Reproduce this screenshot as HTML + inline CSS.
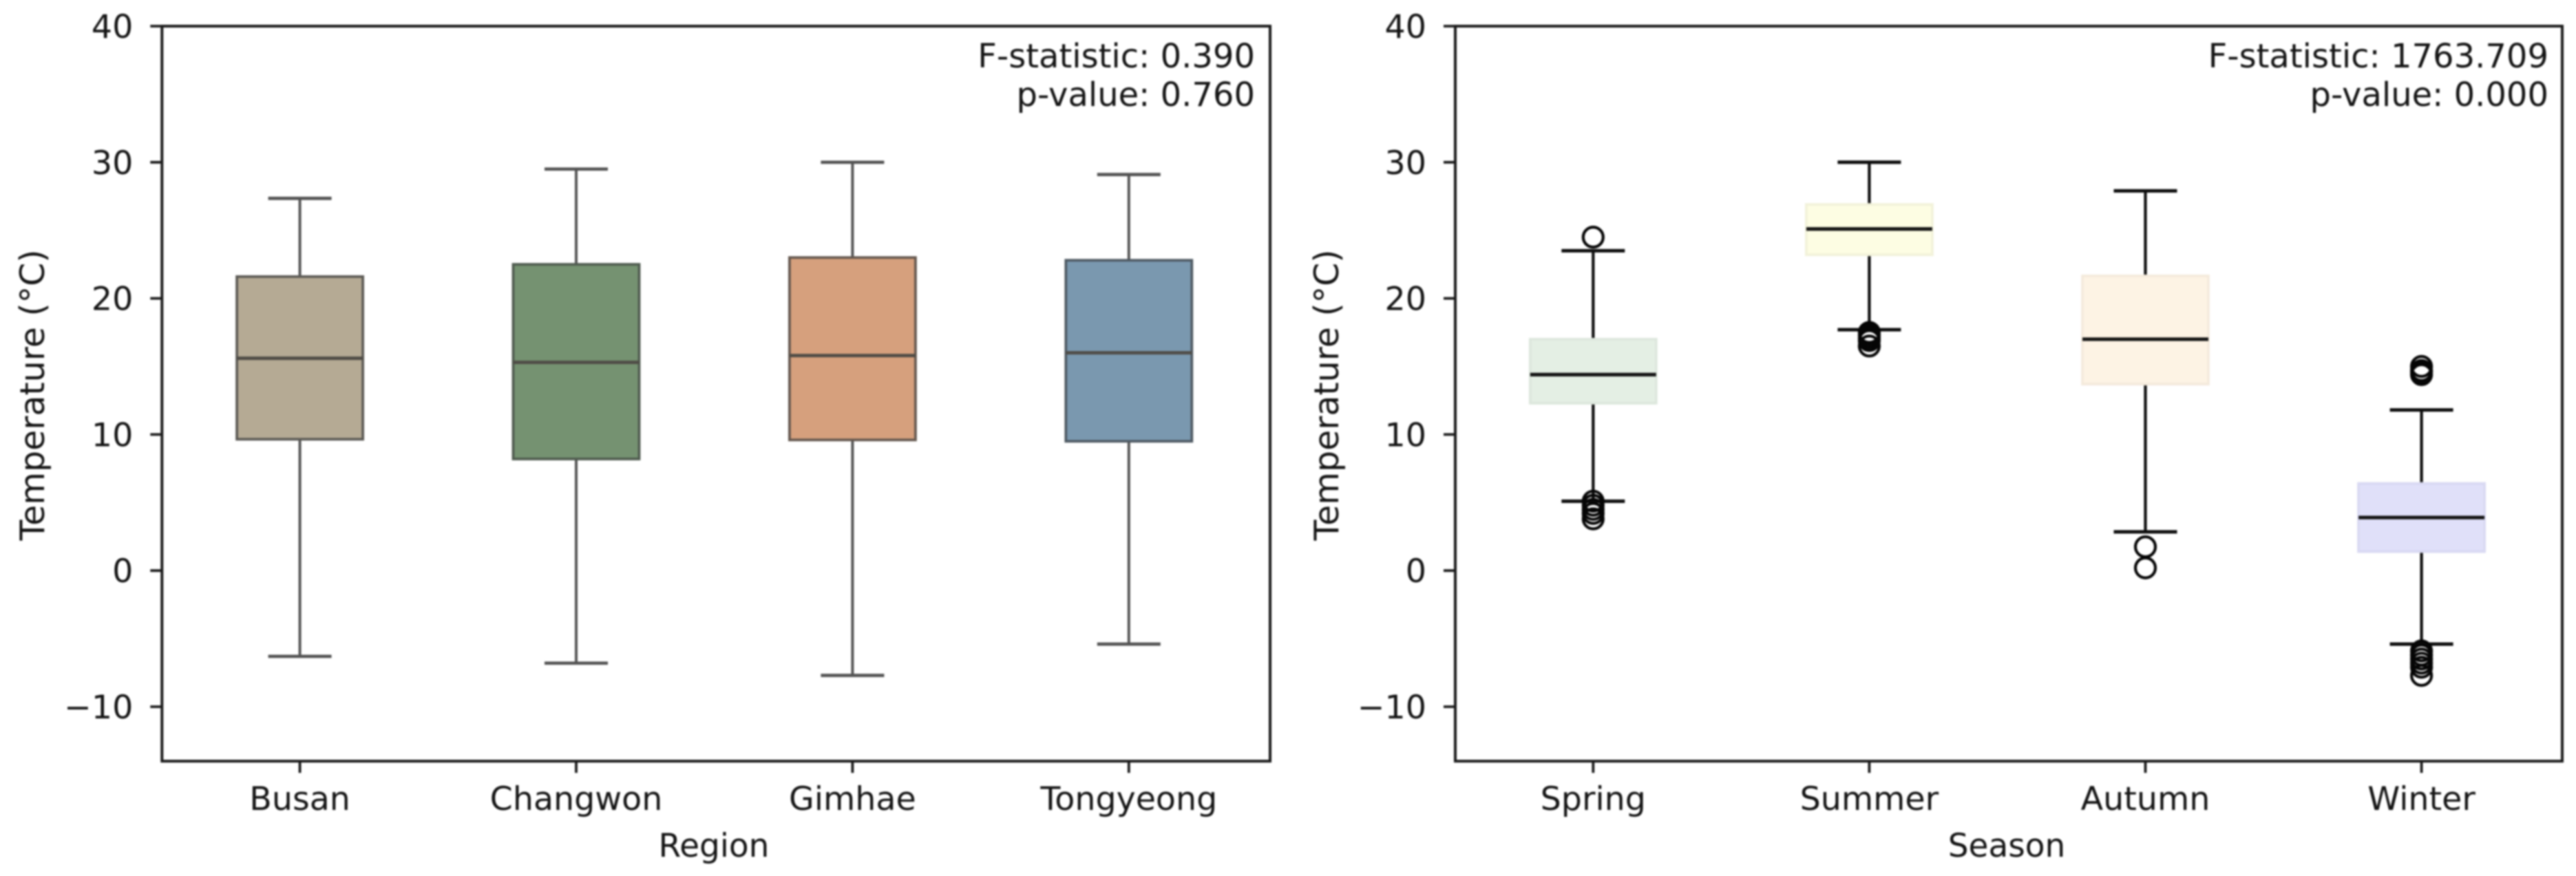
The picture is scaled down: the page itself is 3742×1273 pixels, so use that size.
<!DOCTYPE html>
<html lang="en">
<head>
<meta charset="utf-8">
<title>Temperature by Region and Season</title>
<style>
html,body{margin:0;padding:0;background:#fff;}
body{width:3742px;height:1273px;overflow:hidden;}
svg{display:block;filter:blur(1.2px);}
text{font-family:"DejaVu Sans","Liberation Sans",sans-serif;font-size:47.5px;fill:#141414;}
.ylab{font-size:49px;}
.xlab{font-size:47px;}
.stat{font-size:48px;}
</style>
</head>
<body>
<svg id="figure" xmlns="http://www.w3.org/2000/svg" width="3742" height="1273" viewBox="0 0 3742 1273">
  <rect x="0" y="0" width="3742" height="1273" fill="#ffffff"/>
  <g id="region-panel">
    <text class="ylab" text-anchor="middle" transform="translate(64 574) rotate(-90)">Temperature (°C)</text>
    <text class="xlab" text-anchor="middle" x="1037" y="1245">Region</text>
    <text class="stat" text-anchor="end" x="1823" y="98">F-statistic: 0.390</text>
    <text class="stat" text-anchor="end" x="1823" y="154">p-value: 0.760</text>
  </g>
  <g id="season-panel">
    <text class="ylab" text-anchor="middle" transform="translate(1944 574) rotate(-90)">Temperature (°C)</text>
    <text class="xlab" text-anchor="middle" x="2915" y="1245">Season</text>
    <text class="stat" text-anchor="end" x="3702" y="98">F-statistic: 1763.709</text>
    <text class="stat" text-anchor="end" x="3702" y="154">p-value: 0.000</text>
  </g>
</svg>
<script>
// Shared value axis
var yTickValues = [-10, 0, 10, 20, 30, 40];
var yTickLabels = ['\u221210', '0', '10', '20', '30', '40'];

// Left chart: temperature by region
var regionCategories = ['Busan', 'Changwon', 'Gimhae', 'Tongyeong'];
var regionLow = [-6.3, -6.8, -7.7, -5.4];
var regionQ1 = [9.65, 8.2, 9.6, 9.5];
var regionMedian = [15.6, 15.3, 15.8, 16.0];
var regionQ3 = [21.6, 22.5, 23.0, 22.8];
var regionHigh = [27.35, 29.5, 30.0, 29.1];
var regionOutliers = [[], [], [], []];

// Right chart: temperature by season
var seasonCategories = ['Spring', 'Summer', 'Autumn', 'Winter'];
var seasonLow = [5.1, 17.7, 2.85, -5.4];
var seasonQ1 = [12.3, 23.2, 13.7, 1.4];
var seasonMedian = [14.4, 25.1, 17.0, 3.9];
var seasonQ3 = [17.0, 26.9, 21.65, 6.4];
var seasonHigh = [23.5, 30.0, 27.9, 11.8];
var seasonOutliers = [
  [24.5, 5.1, 4.8, 4.5, 4.2, 3.8],
  [17.5, 17.3, 17.1, 16.9, 16.5],
  [1.75, 0.2],
  [15.0, 14.7, 14.6, 14.4, -5.9, -6.2, -6.5, -6.8, -7.1, -7.7]
];

// Styling, kept apart from the data
var regionFills = ['#b5aa94', '#759271', '#d6a07d', '#7a98af'];
var seasonFills = ['#e4efe4', '#fdfde3', '#fdf3e4', '#e0e0f9'];
var seasonEdges = ['#dde7dd', '#f2f2da', '#f4eadc', '#d9d9f2'];

var NS = 'http://www.w3.org/2000/svg';

// Value axis shared by both panels
function yScale(v) {
  return 829.2 - 19.78 * v;
}
function regionX(i) {
  return 435.6 + 401.4 * i;
}
function seasonX(i) {
  return 2314.3 + 401.1 * i;
}

function make(parent, tag, attrs) {
  var node = document.createElementNS(NS, tag);
  for (var key in attrs) {
    node.setAttribute(key, attrs[key]);
  }
  parent.appendChild(node);
  return node;
}

function drawFrame(g, left, right, prefix, xScale, categories) {
  var top = yScale(40);
  var bottom = yScale(-14);
  var frame = make(g, 'rect', {x: left, y: top, width: right - left, height: bottom - top, fill: 'none', stroke: '#1a1a1a', 'stroke-width': 4});
  
  
  yTickValues.forEach(function (value, i) {
    var tick = make(g, 'line', {x1: left - 17, x2: left, y1: yScale(value), y2: yScale(value), stroke: '#1a1a1a', 'stroke-width': 3.8});
    
    
    var label = make(g, 'text', {x: left - 42, y: yScale(value) + 17, 'text-anchor': 'end'});
    
    
    label.textContent = yTickLabels[i];
  });
  categories.forEach(function (name, i) {
    var tick = make(g, 'line', {x1: xScale(i), x2: xScale(i), y1: bottom, y2: bottom + 17, stroke: '#1a1a1a', 'stroke-width': 3.8});
    
    
    var label = make(g, 'text', {x: xScale(i), y: 1177, 'text-anchor': 'middle'});
    
    
    label.textContent = name;
  });
}

function drawBoxes(g, prefix, xScale, categories, low, q1, median, q3, high, outliers, fills, edges, lineColor, medianColor, lineWidth) {
  var boxHalf = 91.5;
  var capHalf = 46;
  categories.forEach(function (name, i) {
    var x = xScale(i);
    var group = make(g, 'g', {});
    
    

    var whiskerUp = make(group, 'line', {x1: x, x2: x, y1: yScale(q3[i]), y2: yScale(high[i]), stroke: lineColor, 'stroke-width': lineWidth});
    
    

    var whiskerDown = make(group, 'line', {x1: x, x2: x, y1: yScale(q1[i]), y2: yScale(low[i]), stroke: lineColor, 'stroke-width': lineWidth});
    
    

    var capUp = make(group, 'line', {x1: x - capHalf, x2: x + capHalf, y1: yScale(high[i]), y2: yScale(high[i]), stroke: lineColor, 'stroke-width': lineWidth + 0.8});
    
    

    var capDown = make(group, 'line', {x1: x - capHalf, x2: x + capHalf, y1: yScale(low[i]), y2: yScale(low[i]), stroke: lineColor, 'stroke-width': lineWidth + 0.8});
    
    

    var box = make(group, 'rect', {x: x - boxHalf, y: yScale(q3[i]), width: boxHalf * 2, height: yScale(q1[i]) - yScale(q3[i]), fill: fills[i], stroke: edges[i], 'stroke-width': 3.8});
    
    

    var med = make(group, 'line', {x1: x - boxHalf, x2: x + boxHalf, y1: yScale(median[i]), y2: yScale(median[i]), stroke: medianColor, 'stroke-width': lineWidth + 1});
    
    

    outliers[i].forEach(function (value) {
      var point = make(group, 'circle', {cx: x, cy: yScale(value), r: 14.5, fill: 'none', stroke: '#050505', 'stroke-width': 4.2});
      
      
    });
  });
}

var regionPanel = document.getElementById('region-panel');
var seasonPanel = document.getElementById('season-panel');

drawFrame(regionPanel, 235.3, 1845, 'region', regionX, regionCategories);
drawBoxes(regionPanel, 'region', regionX, regionCategories, regionLow, regionQ1, regionMedian, regionQ3, regionHigh, regionOutliers, regionFills, ['#5c5a55', '#505c50', '#65584f', '#4f5a63'], '#525252', '#4f4c46', 3.9);

drawFrame(seasonPanel, 2114, 3722, 'season', seasonX, seasonCategories);
drawBoxes(seasonPanel, 'season', seasonX, seasonCategories, seasonLow, seasonQ1, seasonMedian, seasonQ3, seasonHigh, seasonOutliers, seasonFills, seasonEdges, '#0c0c0c', '#141414', 4.2);
</script>
</body>
</html>
